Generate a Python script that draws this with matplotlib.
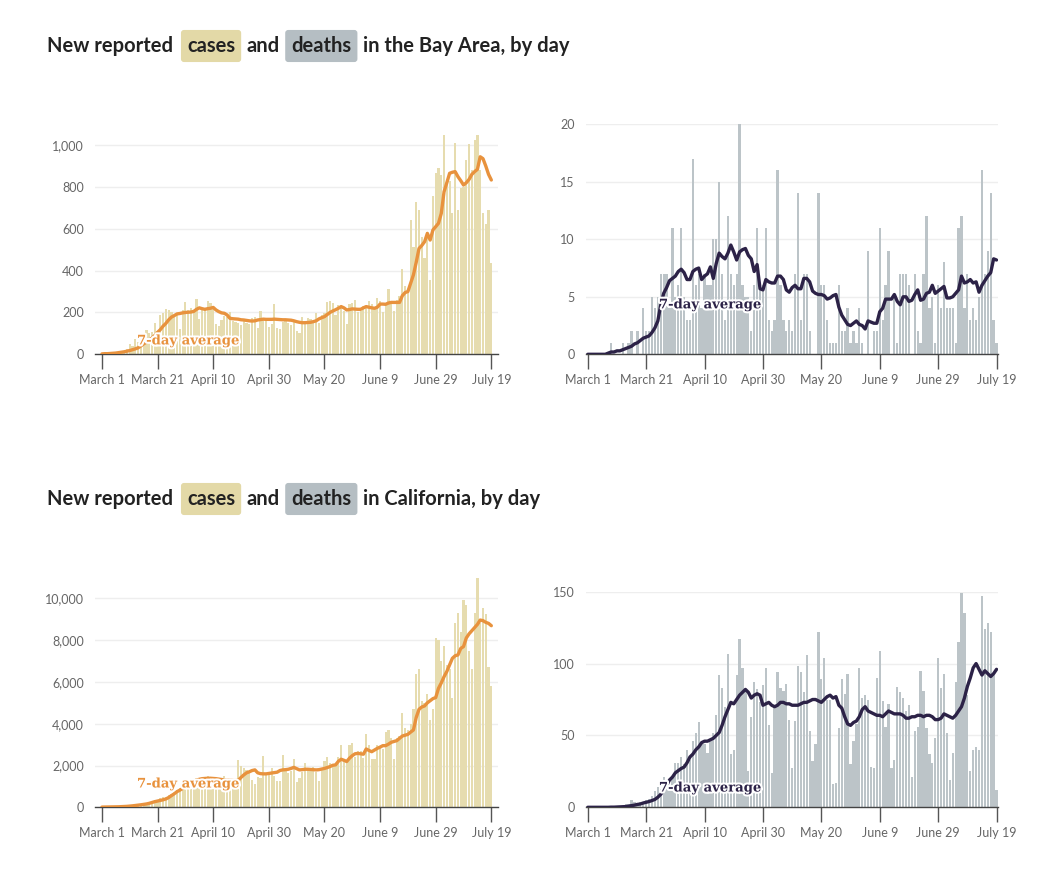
import matplotlib
matplotlib.use('Agg')
import matplotlib.pyplot as plt
import matplotlib.patheffects as pe
import numpy as np

# Days since March 1 (March 1 .. July 19)
tick_days = [0, 20, 40, 60, 80, 100, 120, 140]
tick_labels = ['March 1', 'March 21', 'April 10', 'April 30', 'May 20',
               'June 9', 'June 29', 'July 19']

# Bay Area, new cases per day
ba_cases = [
    1, 3, 2, 5, 6, 8, 10, 12, 15, 25, 50, 40, 75, 60, 85, 70, 115, 100, 105, 150,
    110, 190, 195, 215, 210, 200, 185, 190, 120, 210, 250, 210, 220, 200, 262, 170, 210, 215, 255, 245,
    220, 145, 135, 165, 185, 180, 200, 160, 155, 150, 140, 160, 150, 145, 175, 180, 125, 205, 170, 175,
    130, 145, 240, 125, 120, 155, 160, 150, 140, 155, 110, 100, 180, 160, 175, 170, 160, 195, 150, 190,
    195, 250, 255, 245, 190, 235, 225, 205, 145, 240, 245, 260, 200, 205, 230, 225, 255, 240, 215, 270,
    255, 200, 240, 310, 250, 205, 260, 280, 410, 325, 300, 640, 515, 730, 690, 560, 460, 585, 355, 755,
    865, 890, 855, 1050, 810, 830, 675, 1010, 690, 795, 800, 930, 1005, 880, 1025, 1050, 880, 675, 625, 690,
    435]
ba_cases_avg = [
    2, 3, 3, 4, 5, 6, 8, 10, 12, 15, 18, 22, 26, 31, 40, 50, 58, 68, 78, 90,
    105, 118, 135, 148, 165, 178, 185, 193, 195, 198, 200, 201, 202, 205, 215, 222, 218, 215, 218, 220,
    224, 212, 204, 198, 196, 188, 172, 170, 169, 168, 165, 164, 162, 160, 159, 160, 164, 166, 168, 167,
    167, 167, 168, 167, 166, 165, 165, 164, 163, 160, 156, 153, 151, 151, 152, 153, 156, 160, 169, 175,
    180, 190, 200, 207, 213, 220, 228, 222, 212, 214, 217, 216, 215, 215, 222, 228, 225, 222, 220, 225,
    240, 240, 239, 245, 248, 248, 248, 248, 280, 295, 300, 340, 380, 440, 506, 520, 538, 578, 546, 594,
    610, 626, 673, 777, 820, 865, 870, 873, 849, 830, 809, 820, 836, 860, 873, 884, 944, 935, 900, 860,
    833]

# Bay Area, new deaths per day
ba_deaths = [
    0, 0, 0, 0, 0, 0, 0, 0, 1, 0, 0, 0, 1, 0, 1, 2, 0, 2, 0, 4,
    2, 2, 5, 4, 5, 7, 7, 7, 4, 11, 5, 6, 11, 5, 3, 3, 17, 6, 7, 4,
    7, 6, 6, 10, 10, 15, 7, 3, 12, 7, 6, 7, 20, 6, 5, 5, 2, 6, 11, 6,
    6, 11, 3, 2, 3, 16, 6, 3, 2, 3, 2, 7, 14, 3, 7, 7, 2, 0, 0, 14,
    6, 6, 3, 1, 1, 1, 6, 2, 2, 4, 1, 2, 1, 4, 1, 0, 9, 0, 2, 2,
    11, 3, 6, 9, 0, 5, 1, 7, 7, 7, 6, 0, 7, 2, 1, 7, 12, 4, 5, 1,
    6, 4, 8, 4, 4, 4, 1, 11, 12, 4, 7, 3, 4, 3, 5, 16, 7, 9, 14, 3,
    1]
ba_deaths_avg = [
    0, 0, 0, 0, 0, 0, 0, 0.1, 0.2, 0.2, 0.3, 0.3, 0.4, 0.5, 0.6, 0.7, 0.9, 1.0, 1.2, 1.4,
    1.5, 1.6, 1.9, 2.3, 2.9, 4.3, 5.3, 5.8, 6.4, 6.6, 6.8, 7.2, 7.4, 7.1, 6.5, 6.5, 7.2, 7.4, 7.5, 6.5,
    6.8, 7.0, 7.6, 6.6, 7.9, 8.8, 8.5, 8.3, 8.8, 9.5, 8.9, 8.2, 8.9, 9.1, 9.2, 8.6, 8.3, 7.2, 7.8, 5.7,
    5.6, 6.5, 6.3, 6.2, 6.2, 6.8, 6.8, 6.5, 5.6, 5.4, 5.8, 6.0, 5.7, 5.7, 6.6, 6.6, 6.3, 5.5, 5.3, 5.2,
    5.2, 5.1, 4.8, 4.9, 5.1, 5.2, 4.1, 3.4, 3.0, 2.6, 2.5, 2.7, 2.9, 2.6, 2.5, 2.2, 2.9, 2.8, 2.7, 2.7,
    3.7, 4.0, 4.8, 4.8, 4.8, 5.2, 4.6, 4.3, 5.0, 5.0, 4.6, 4.7, 5.2, 5.6, 4.7, 4.8, 5.3, 5.4, 6.0, 5.3,
    5.5, 5.7, 5.9, 4.9, 4.9, 5.0, 5.3, 5.6, 6.8, 6.2, 6.3, 6.5, 6.2, 6.3, 5.4, 6.0, 6.4, 6.8, 7.1, 8.3,
    8.2]

# California, new cases per day
ca_cases = [
    5, 10, 10, 15, 20, 20, 25, 35, 40, 50, 60, 70, 90, 110, 130, 170, 200, 250, 300, 330,
    350, 450, 500, 500, 600, 650, 800, 850, 900, 1000, 1200, 1300, 1100, 1250, 1400, 1350, 1300, 1250, 1500, 1300,
    1150, 1200, 1250, 1200, 1500, 1250, 1300, 1200, 1350, 2250, 2000, 1900, 1800, 1700, 1300, 1100, 1450, 1400, 2450, 1600,
    1700, 1900, 1500, 1250, 1250, 2500, 1800, 1650, 1750, 2300, 1200, 1400, 1700, 2100, 1800, 1900, 1950, 1700, 1250, 1900,
    2200, 2400, 2100, 2000, 2050, 2400, 3000, 2250, 2200, 3000, 3100, 2400, 2700, 2700, 2350, 3500, 3000, 2300, 2300, 3000,
    2950, 2800, 3600, 3700, 3300, 2300, 3300, 3400, 4500, 3800, 3700, 4000, 4700, 6400, 6600, 5100, 5000, 5400, 4200, 4700,
    8100, 8000, 7000, 7700, 6800, 6600, 5250, 8800, 9300, 8400, 9900, 9700, 7500, 6600, 9300, 10950, 8800, 9550, 9250, 6700,
    5800]
ca_cases_avg = [
    10, 12, 14, 16, 18, 20, 25, 30, 35, 45, 55, 70, 85, 100, 120, 140, 160, 190, 230, 270,
    300, 330, 360, 400, 470, 560, 650, 750, 820, 900, 960, 1050, 1150, 1250, 1300, 1340, 1370, 1380, 1390, 1390,
    1380, 1370, 1350, 1330, 1310, 1300, 1290, 1280, 1280, 1290, 1430, 1550, 1650, 1700, 1760, 1790, 1650, 1610, 1600, 1600,
    1620, 1640, 1660, 1680, 1760, 1790, 1800, 1820, 1860, 1910, 1850, 1790, 1800, 1820, 1820, 1810, 1800, 1790, 1800, 1830,
    1860, 1900, 1950, 2010, 2030, 2200, 2300, 2250, 2190, 2350, 2470, 2560, 2580, 2560, 2540, 2790, 2720, 2660, 2740, 2820,
    2880, 2950, 2950, 3020, 3110, 3150, 3190, 3300, 3410, 3450, 3490, 3600, 3700, 4300, 4690, 4800, 4850, 5000, 5100, 5200,
    5250, 5690, 5950, 6250, 6500, 6810, 7130, 7250, 7290, 7600, 7690, 8100, 8300, 8450, 8600, 8750, 8960, 8930, 8850, 8800,
    8690]

# California, new deaths per day
ca_deaths = [
    0, 0, 0, 0, 1, 0, 0, 1, 0, 1, 1, 1, 1, 2, 2, 5, 4, 3, 4, 4,
    5, 6, 8, 11, 14, 13, 21, 17, 14, 21, 31, 31, 35, 30, 40, 33, 46, 52, 59, 45,
    44, 38, 47, 52, 64, 92, 83, 70, 107, 37, 40, 92, 117, 97, 82, 25, 63, 87, 82, 73,
    85, 97, 57, 24, 70, 94, 83, 81, 86, 61, 27, 60, 98, 94, 80, 106, 53, 32, 44, 122,
    89, 104, 75, 75, 16, 17, 55, 89, 79, 93, 30, 46, 58, 97, 76, 78, 75, 28, 27, 90,
    109, 74, 56, 72, 27, 33, 84, 80, 76, 67, 71, 21, 53, 56, 95, 81, 55, 37, 31, 48,
    104, 83, 93, 52, 19, 38, 87, 115, 149, 135, 78, 25, 40, 42, 40, 147, 124, 128, 122, 92,
    12]
ca_deaths_avg = [
    0, 0, 0, 0, 0, 0, 0, 0, 0.1, 0.1, 0.2, 0.3, 0.4, 0.5, 0.8, 1.2, 1.5, 2, 2.3, 3,
    3.5, 4, 4.7, 5.5, 7, 9, 12, 15, 19, 21, 24, 25.5, 27, 28, 31, 35, 37, 40, 42, 45,
    46, 46, 47, 48, 50, 52, 57, 63, 68, 73, 72, 75, 78, 80, 82, 80, 76, 78, 79, 78,
    71, 72, 73, 71, 70, 71, 73, 73, 72, 72, 71, 71, 71, 72, 73, 73, 74, 75, 75, 74,
    73, 75, 77, 78, 76, 77, 71, 69, 63, 58, 57, 59, 60, 63, 68, 70, 67, 66, 65, 64,
    64, 63, 65, 67, 66, 65, 65, 65, 64, 62, 62, 63, 63, 64, 64, 63, 64, 64, 63, 61,
    61, 62, 65, 64, 63, 62, 64, 67, 70, 76, 84, 90, 97, 100, 96, 92, 95, 93, 91, 93,
    96]

CASE_BAR = '#e6dcaf'
DEATH_BAR = '#bcc4c8'
CASE_LINE = '#e8923d'
DEATH_LINE = '#2c2247'
TEXT = '#222222'
TICK = '#666666'

W, H = 1049, 884
fig = plt.figure(figsize=(W / 100, H / 100), dpi=100)
fig.patch.set_facecolor('white')


def px_axes(left, right, top, bottom):
    return fig.add_axes([left / W, 1 - bottom / H, (right - left) / W, (bottom - top) / H])


def draw_panel(ax, bars, avg, bar_color, line_color, xlim, ylim, yticks, ylabels,
               label_xy):
    days = np.arange(len(bars))
    ax.bar(days, bars, width=0.78, color=bar_color, linewidth=0, zorder=2)
    ax.plot(days, avg, color=line_color, lw=2.4, solid_capstyle='round',
            solid_joinstyle='round', zorder=3)
    ax.set_xlim(*xlim)
    ax.set_ylim(*ylim)
    ax.set_yticks(yticks)
    ax.set_yticklabels(ylabels, fontsize=9, color=TICK, family='Lato')
    ax.set_xticks(tick_days)
    ax.set_xticklabels(tick_labels, fontsize=9, color=TICK, family='Lato')
    ax.tick_params(axis='y', length=0, pad=8)
    ax.tick_params(axis='x', length=11, width=1, color='#555555', pad=3)
    for s in ['top', 'right', 'left']:
        ax.spines[s].set_visible(False)
    ax.spines['bottom'].set_color('#444444')
    ax.spines['bottom'].set_linewidth(1)
    ax.grid(axis='y', color='#eeeeee', lw=1, zorder=0)
    ax.set_axisbelow(True)
    ax.text(label_xy[0], label_xy[1], '7-day average', color=line_color,
            fontsize=9.5, fontweight='bold', family='DejaVu Serif', ha='center',
            va='center', zorder=4,
            path_effects=[pe.withStroke(linewidth=3, foreground='white')])


def title(y, rest):
    kw = dict(fontsize=14.5, fontweight='bold', color=TEXT, family='Lato', va='bottom')
    prev = fig.text(47 / W, 1 - y / H, 'New reported', **kw)
    pieces = [('cases', 14, '#e3d9a7'), ('and', 11, None), ('deaths', 12, '#b5bec3'),
              (rest, 12, None)]
    for word, gap, box in pieces:
        extra = {}
        if box:
            extra['bbox'] = dict(boxstyle='round,pad=0.3,rounding_size=0.15',
                                 fc=box, ec='none')
        prev = fig.axes[0].annotate(word, xy=(1, 0), xycoords=prev,
                                    xytext=(gap, 0), textcoords='offset pixels',
                                    annotation_clip=False, **kw, **extra)


# Bay Area
ax1 = px_axes(95, 498, 132.5, 354.3)
draw_panel(ax1, ba_cases, ba_cases_avg, CASE_BAR, CASE_LINE, (-2.5, 142.4), (0, 1060),
           [0, 200, 400, 600, 800, 1000], ['0', '200', '400', '600', '800', '1,000'],
           (31, 64))
ax2 = px_axes(586, 998, 124.3, 354.3)
draw_panel(ax2, ba_deaths, ba_deaths_avg, DEATH_BAR, DEATH_LINE, (-0.6, 140.5), (0, 20),
           [0, 5, 10, 15, 20], ['0', '5', '10', '15', '20'], (41.9, 4.3))

# California
ax3 = px_axes(95, 498, 577.4, 807.3)
draw_panel(ax3, ca_cases, ca_cases_avg, CASE_BAR, CASE_LINE, (-2.5, 142.4), (0, 11000),
           [0, 2000, 4000, 6000, 8000, 10000],
           ['0', '2,000', '4,000', '6,000', '8,000', '10,000'], (31, 1115))
ax4 = px_axes(586, 998, 591.7, 807.3)
draw_panel(ax4, ca_deaths, ca_deaths_avg, DEATH_BAR, DEATH_LINE, (-0.6, 140.5), (0, 150),
           [0, 50, 100, 150], ['0', '50', '100', '150'], (41.9, 13.4))

title(56, 'in the Bay Area, by day')
title(509, 'in California, by day')

fig.savefig('out.png', dpi=100, facecolor='white')
